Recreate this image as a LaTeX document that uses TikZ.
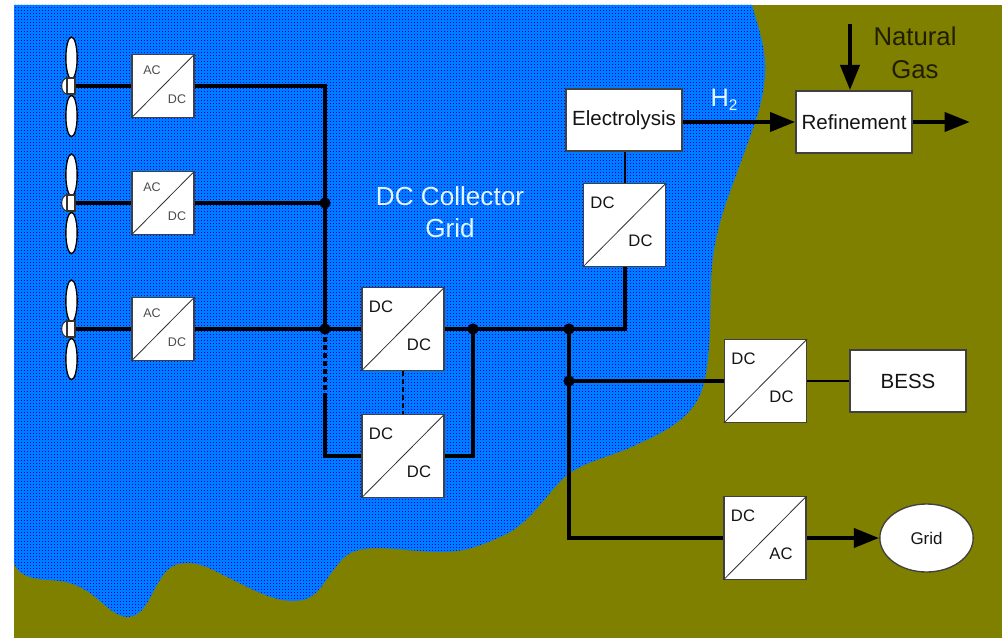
\documentclass[tikz,border=0pt]{standalone}
\usepackage{fontspec}
\setmainfont{Liberation Sans}
\usetikzlibrary{arrows.meta,patterns,shapes.geometric}
\definecolor{olivebg}{RGB}{128,128,0}
\definecolor{bluelight}{RGB}{0,125,255}
\definecolor{bluedark}{RGB}{0,0,255}
\definecolor{paletext}{RGB}{228,245,255}
\definecolor{ink}{RGB}{20,20,20}
\definecolor{gasink}{RGB}{32,30,0}
\pgfdeclarepatternformonly{bluedots}{\pgfqpoint{-1pt}{-1pt}}{\pgfqpoint{2pt}{2pt}}{\pgfqpoint{2.25pt}{2.25pt}}{%
  \pgfpathrectangle{\pgfqpoint{0pt}{0pt}}{\pgfqpoint{1.1pt}{0.9pt}}%
  \pgfusepath{fill}}
\tikzset{
  wire/.style={draw=black,line width=2.4pt},
  thinwire/.style={draw=black,line width=1.7pt},
  dotwire/.style={draw=black,line width=2.4pt,dash pattern=on 3.5pt off 2.5pt},
  flow/.style={draw=black,line width=3.6pt,-{Triangle[length=19pt,width=14pt]}},
  boxnode/.style={draw=black!75,line width=1pt,fill=white,inner sep=0pt,text=ink},
  convsmall/.style={boxnode,minimum width=46.5pt,minimum height=47pt},
  convbig/.style={boxnode,minimum width=61.5pt,minimum height=62pt},
  procbox/.style={boxnode,minimum width=87pt,minimum height=46.5pt,font=\fontsize{15.4}{18}\selectfont},
  diag/.style={draw=black!80,line width=0.6pt},
  smalltxt/.style={inner sep=0pt,text=black!70,font=\fontsize{9.4}{11}\selectfont},
  bigtxt/.style={inner sep=0pt,text=ink,font=\fontsize{12.5}{15}\selectfont},
  blade/.style={ellipse,draw=black,line width=1pt,fill=white,inner sep=0pt,minimum width=8.5pt,minimum height=31pt},
  hubround/.style={ellipse,draw=black!80,line width=0.8pt,fill=white,inner sep=0pt,minimum width=8pt,minimum height=12pt},
  hubbox/.style={rectangle,draw=black!80,line width=0.8pt,fill=white,inner sep=0pt,minimum width=6pt,minimum height=12pt},
  dotj/.style={circle,fill=black!90!blue,inner sep=0pt,minimum size=8.5pt},
}
\newcommand{\smallconv}[5]{%
  \node[convsmall] (#1) at (#2,#3) {};
  \draw[diag] (#1.south west) -- (#1.north east);
  \node[smalltxt] (#1a) at ([shift={(-11,-16)}]#1.center) {#4};
  \node[smalltxt] (#1b) at ([shift={(14,13)}]#1.center) {#5};
}
\newcommand{\bigconv}[5]{%
  \node[convbig] (#1) at (#2,#3) {};
  \draw[diag] (#1.south west) -- (#1.north east);
  \node[bigtxt] (#1a) at ([shift={(-22,-22)}]#1.center) {#4};
  \node[bigtxt] (#1b) at ([shift={(16,16)}]#1.center) {#5};
}
\newcommand{\turbine}[2]{%
  \node[blade,minimum height=31.5pt] (#1t) at (71.5,#2-28) {};
  \node[blade,minimum height=31pt] (#1b) at (71.5,#2+30) {};
  \node[hubround] (#1r) at (67,#2) {};
  \node[hubbox] (#1) at (71,#2) {};
}
\begin{document}
\begin{tikzpicture}[x=0.75pt,y=-0.75pt]
\useasboundingbox (0,0) rectangle (1002,638);
\fill[white] (0,0) rectangle (1002,638);
\fill[olivebg] (14,5) rectangle (1002,638);
\def\bluepath{(14,5) -- (752,5)
  .. controls (757,25) and (766,45) .. (765,72)
  .. controls (764,105) and (752,130) .. (738,170)
  .. controls (725,205) and (713,235) .. (711,280)
  .. controls (710,320) and (711,370) .. (700,395)
  .. controls (690,418) and (665,432) .. (640,443)
  .. controls (610,458) and (585,460) .. (565,477)
  .. controls (545,495) and (530,525) .. (500,537)
  .. controls (480,546) and (465,552) .. (440,552)
  .. controls (415,552) and (385,546) .. (365,549)
  .. controls (345,551) and (340,562) .. (332,572)
  .. controls (320,588) and (315,601) .. (293,601)
  .. controls (270,601) and (245,585) .. (225,576)
  .. controls (210,568) and (200,563) .. (187,563)
  .. controls (170,563) and (165,572) .. (158,583)
  .. controls (150,597) and (143,617) .. (128,617)
  .. controls (115,617) and (105,604) .. (90,593)
  .. controls (75,583) and (65,581) .. (50,580)
  .. controls (30,579) and (18,575) .. (14,563) -- cycle}
\fill[bluelight] \bluepath;
\path[pattern=bluedots,pattern color=bluedark] \bluepath;

% turbines
\turbine{tA}{86}
\turbine{tB}{203}
\turbine{tC}{329}

% converters
\smallconv{acA}{163}{86}{AC}{DC}
\smallconv{acB}{163}{203}{AC}{DC}
\smallconv{acC}{163}{329}{AC}{DC}
\bigconv{ddA}{403}{329}{DC}{DC}
\bigconv{ddB}{403}{456}{DC}{DC}
\bigconv{ddC}{624.5}{225}{DC}{DC}
\bigconv{ddD}{765.5}{381}{DC}{DC}
\bigconv{daE}{765}{538}{DC}{AC}

% process boxes
\node[procbox] (elec) at (624,120) {Electrolysis};
\node[procbox] (refi) at (854,122) {Refinement};
\node[procbox] (bess) at (908,381) {BESS};
\node[ellipse,boxnode,minimum width=70pt,minimum height=51pt,font=\fontsize{12.7}{15}\selectfont] (grid) at (926.5,538) {Grid};

% junctions
\node[dotj] (jB) at (325,203) {};
\node[dotj] (jC) at (325,329) {};
\node[dotj] (jD) at (473,329) {};
\node[dotj] (jE) at (569,329) {};
\node[dotj] (jF) at (569,381) {};
\coordinate (dashend) at (325,395);
\coordinate (elecfoot) at (625,329);
\coordinate (gasin) at (850,24);
\coordinate (outflow) at (970,122);

% wires
\draw[wire] (tA.east) -- (acA.west);
\draw[wire] (tB.east) -- (acB.west);
\draw[wire] (tC.east) -- (acC.west);
\draw[wire] (acA.east) -| (jC.center);
\draw[wire] (acB.east) -- (jB.center);
\draw[wire] (acC.east) -- (jC.center) -- (ddA.west);
\draw[dotwire] (jC.center) -- (dashend);
\draw[wire] (dashend) |- (ddB.west);
\draw[wire] (ddA.east) -- (jD.center) -- (jE.center) -- (elecfoot) -- (ddC.south -| elecfoot);
\draw[wire] (jD.center) |- (ddB.east);
\draw[thinwire] (ddC.north -| elecfoot) -- (elec.south -| elecfoot);
\draw[dotwire,line width=1.8pt] (ddA.south) -- (ddB.north);
\draw[wire] (jE.center) -- (jF.center) -- (ddD.west);
\draw[wire] (jF.center) |- (daE.west);
\draw[thinwire] (ddD.east) -- (bess.west);
\draw[flow] (daE.east) -- (grid.west);
\draw[flow] (elec.east |- refi.west) -- (refi.west);
\draw[flow] (refi.east) -- (outflow);
\draw[flow] (gasin) -- (refi.north -| gasin);

% texts
\node[inner sep=0pt,text=paletext,align=center,font=\fontsize{19.6}{23.5}\selectfont] (lblgrid) at (450,212) {DC Collector\\Grid};
\node[inner sep=0pt,text=paletext,font=\fontsize{19}{22}\selectfont] (lblh) at (724,100) {H\raisebox{-3pt}{\fontsize{11.5}{13}\selectfont 2}};
\node[inner sep=0pt,text=gasink,align=center,font=\fontsize{19.3}{25}\selectfont] (lblgas) at (915,53) {Natural\\Gas};
\end{tikzpicture}
\end{document}
